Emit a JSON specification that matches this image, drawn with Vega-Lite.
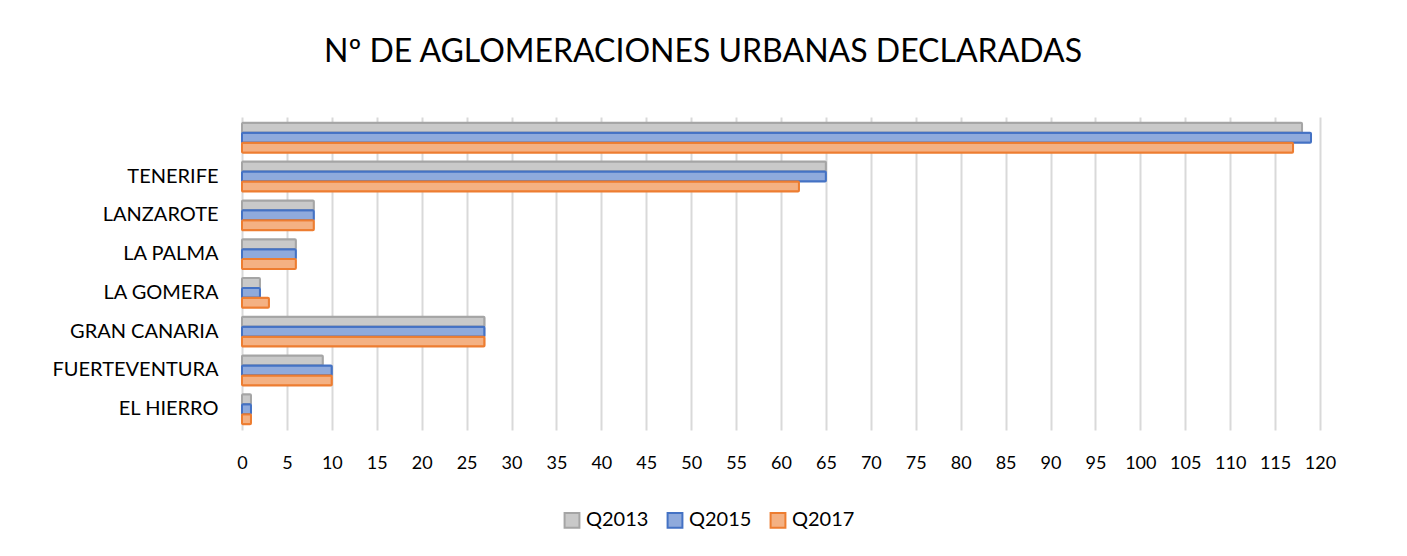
{
  "$schema": "https://vega.github.io/schema/vega-lite/v6.json",
  "width": 1078,
  "height": 313,
  "autosize": {"type": "none"},
  "padding": {"left": 242, "top": 117, "right": 87, "bottom": 126},
  "background": "white",
  "title": {
    "text": "Nº DE AGLOMERACIONES URBANAS DECLARADAS",
    "font": "Lato",
    "fontSize": 32,
    "fontWeight": "normal",
    "color": "#000000",
    "anchor": "middle",
    "dx": -78,
    "offset": 48
  },
  "data": {
    "values": [
      {"isla": "TOTAL", "serie": "Q2013", "valor": 118},
      {"isla": "TOTAL", "serie": "Q2015", "valor": 119},
      {"isla": "TOTAL", "serie": "Q2017", "valor": 117},
      {"isla": "TENERIFE", "serie": "Q2013", "valor": 65},
      {"isla": "TENERIFE", "serie": "Q2015", "valor": 65},
      {"isla": "TENERIFE", "serie": "Q2017", "valor": 62},
      {"isla": "LANZAROTE", "serie": "Q2013", "valor": 8},
      {"isla": "LANZAROTE", "serie": "Q2015", "valor": 8},
      {"isla": "LANZAROTE", "serie": "Q2017", "valor": 8},
      {"isla": "LA PALMA", "serie": "Q2013", "valor": 6},
      {"isla": "LA PALMA", "serie": "Q2015", "valor": 6},
      {"isla": "LA PALMA", "serie": "Q2017", "valor": 6},
      {"isla": "LA GOMERA", "serie": "Q2013", "valor": 2},
      {"isla": "LA GOMERA", "serie": "Q2015", "valor": 2},
      {"isla": "LA GOMERA", "serie": "Q2017", "valor": 3},
      {"isla": "GRAN CANARIA", "serie": "Q2013", "valor": 27},
      {"isla": "GRAN CANARIA", "serie": "Q2015", "valor": 27},
      {"isla": "GRAN CANARIA", "serie": "Q2017", "valor": 27},
      {"isla": "FUERTEVENTURA", "serie": "Q2013", "valor": 9},
      {"isla": "FUERTEVENTURA", "serie": "Q2015", "valor": 10},
      {"isla": "FUERTEVENTURA", "serie": "Q2017", "valor": 10},
      {"isla": "EL HIERRO", "serie": "Q2013", "valor": 1},
      {"isla": "EL HIERRO", "serie": "Q2015", "valor": 1},
      {"isla": "EL HIERRO", "serie": "Q2017", "valor": 1}
    ]
  },
  "mark": {"type": "bar", "strokeWidth": 2, "cornerRadius": 1},
  "encoding": {
    "y": {
      "field": "isla",
      "type": "nominal",
      "sort": ["TOTAL", "TENERIFE", "LANZAROTE", "LA PALMA", "LA GOMERA", "GRAN CANARIA", "FUERTEVENTURA", "EL HIERRO"],
      "scale": {"paddingInner": 0.23, "paddingOuter": 0.15},
      "axis": {
        "title": null,
        "domain": false,
        "ticks": false,
        "labelExpr": "datum.label == 'TOTAL' ? '' : datum.label",
        "labelFont": "Lato",
        "labelFontSize": 20,
        "labelColor": "#000000",
        "labelPadding": 24
      }
    },
    "yOffset": {
      "field": "serie",
      "type": "nominal",
      "sort": ["Q2013", "Q2015", "Q2017"],
      "scale": {"paddingInner": 0, "paddingOuter": 0}
    },
    "x": {
      "field": "valor",
      "type": "quantitative",
      "scale": {"domain": [0, 120], "nice": false},
      "axis": {
        "title": null,
        "values": [0,5,10,15,20,25,30,35,40,45,50,55,60,65,70,75,80,85,90,95,100,105,110,115,120],
        "domain": false,
        "ticks": false,
        "grid": true,
        "gridColor": "#d9d9d9",
        "gridWidth": 2,
        "labelFont": "Lato",
        "labelFontSize": 18,
        "labelColor": "#000000",
        "labelPadding": 24,
        "labelFlush": false
      }
    },
    "fill": {
      "field": "serie",
      "type": "nominal",
      "scale": {"domain": ["Q2013", "Q2015", "Q2017"], "range": ["#c9c9c9", "#8faadc", "#f4b183"]},
      "legend": {
        "title": null,
        "orient": "none",
        "direction": "horizontal",
        "legendX": 320,
        "legendY": 393,
        "symbolType": "square",
        "symbolSize": 220,
        "symbolStrokeWidth": 2,
        "labelFont": "Lato",
        "labelFontSize": 20,
        "labelColor": "#000000",
        "columnPadding": 14,
        "labelOffset": 4
      }
    },
    "stroke": {
      "field": "serie",
      "type": "nominal",
      "scale": {"domain": ["Q2013", "Q2015", "Q2017"], "range": ["#a5a5a5", "#4472c4", "#ed7d31"]},
      "legend": null
    }
  },
  "config": {"view": {"stroke": null}}
}
